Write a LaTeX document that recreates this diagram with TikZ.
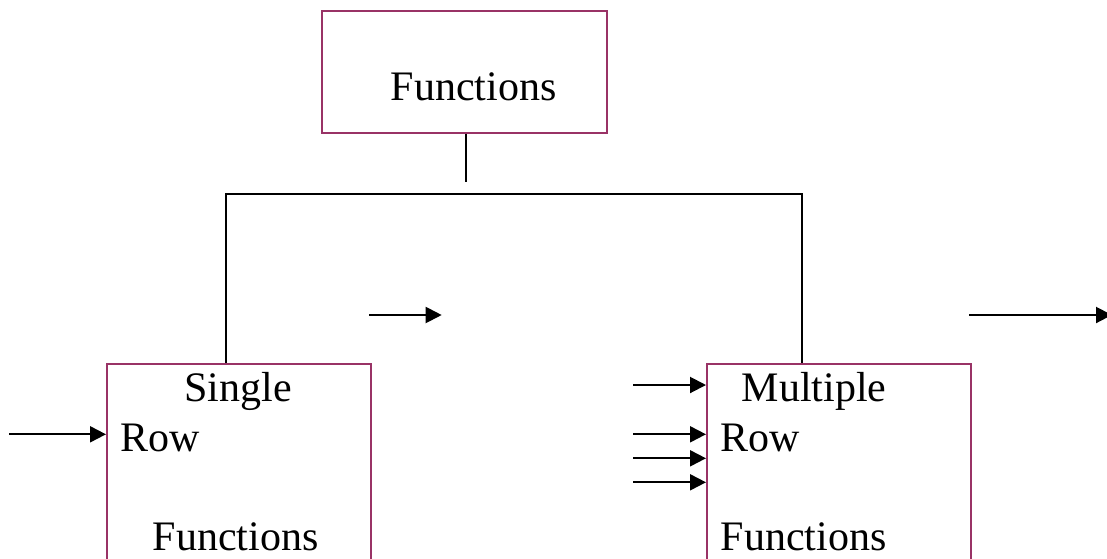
\documentclass[tikz,border=0pt]{standalone}
\usepackage{fontspec}
\setmainfont{Liberation Serif}
\usetikzlibrary{arrows.meta}
\definecolor{boxline}{RGB}{153,51,102}
\tikzset{
  box/.style={draw=boxline, line width=2pt, inner sep=0pt},
  label/.style={font=\fontsize{42}{48}\selectfont, inner sep=0pt},
  wire/.style={draw=black, line width=2pt},
  feed/.style={wire, -{Triangle[length=16pt,width=16pt]}},
}
\begin{document}
\begin{tikzpicture}[x=1pt,y=-1pt]
  \useasboundingbox (0,0) rectangle (1107,558);

  % top box
  \node[box, minimum width=285pt, minimum height=122pt] (top) at (464.5,71.7) {};
  \node[label, anchor=base] (toptext) at (473.5,100) {Functions};

  % two lower boxes, running past the lower edge
  \node[box, anchor=north west, minimum width=264pt, minimum height=210pt] (single) at (106,363) {};
  \node[box, anchor=north west, minimum width=264pt, minimum height=210pt] (multi) at (706,363) {};

  \node[label, anchor=base] (s1) at (238.3,401.7) {Single};
  \node[label, anchor=base west] (s2) at (120.7,451.7) {Row};
  \node[label, anchor=base west] (s3) at (152.7,550) {Functions};

  \node[label, anchor=base west] (m1) at (741.7,401.7) {Multiple};
  \node[label, anchor=base west] (m2) at (720.7,451.7) {Row};
  \node[label, anchor=base west] (m3) at (720.7,550) {Functions};

  % tree connectors
  \coordinate (stemend) at (465.7,182);
  \coordinate (busL) at (226,194);
  \coordinate (busR) at (801.7,194);
  \draw[wire] (top.south -| stemend) -- (stemend);
  \draw[wire] (single.north -| busL) -- (busL) -- (busR) -- (multi.north -| busR);

  % input arrows
  \coordinate (inS) at (9,434.3);
  \draw[feed] (inS) -- (inS -| single.west);
  \coordinate (inM1) at (633,385);
  \coordinate (inM2) at (633,434.3);
  \coordinate (inM3) at (633,458.3);
  \coordinate (inM4) at (633,482.3);
  \foreach \c in {inM1,inM2,inM3,inM4}
    \draw[feed] (\c) -- (\c -| multi.west);

  % free-standing arrows
  \coordinate (a1s) at (369.3,315);
  \coordinate (a1e) at (441.7,315);
  \draw[feed] (a1s) -- (a1e);
  \coordinate (a2s) at (969.3,315);
  \coordinate (a2e) at (1112,315);
  \draw[feed] (a2s) -- (a2e);
\end{tikzpicture}
\end{document}
